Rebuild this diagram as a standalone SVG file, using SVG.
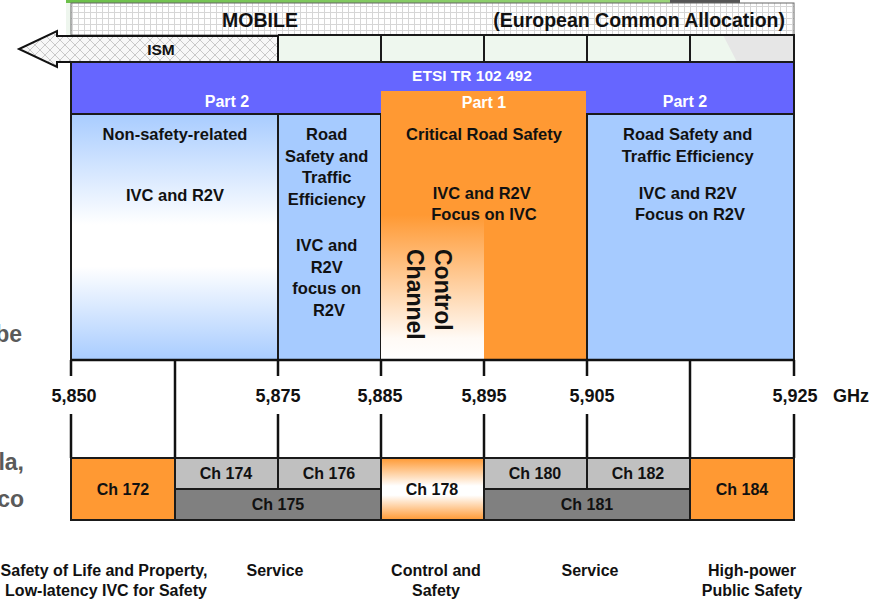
<svg xmlns="http://www.w3.org/2000/svg" width="871" height="601" viewBox="0 0 871 601">
  <style>
    text { font-family: "Liberation Sans", Arial, sans-serif; font-weight: bold; fill: #111; }
    .t16 { font-size: 16.5px; text-anchor: middle; }
    .ch { font-size: 16px; text-anchor: middle; }
    .freq { font-size: 18px; text-anchor: middle; }
    .white { fill: #fff; }
    .hdr { font-size: 15.5px; text-anchor: middle; fill: #fff; }
    .note { font-size: 16px; text-anchor: middle; }
    .side { font-size: 23px; fill: #5a5a5a; text-anchor: end; }
    .cell { stroke: #1a1a1a; stroke-width: 2; }
    .tick { stroke: #111; stroke-width: 2.5; fill: none; }
  </style>
  <defs>
    <pattern id="grid" width="6" height="6" patternUnits="userSpaceOnUse">
      <rect width="6" height="6" fill="#ffffff"/>
      <path d="M0 0.5 H6 M0.5 0 V6" stroke="#d6d6d6" stroke-width="1"/>
    </pattern>
    <pattern id="hatch" width="10" height="10" patternUnits="userSpaceOnUse">
      <rect width="10" height="10" fill="#f7f7f7"/>
      <path d="M0 0 L10 10 M10 0 L0 10" stroke="#c8c8c8" stroke-width="1"/>
    </pattern>
    <linearGradient id="leftPanel" x1="0" y1="0" x2="0" y2="1">
      <stop offset="0" stop-color="#a8ccff"/>
      <stop offset="0.45" stop-color="#ffffff"/>
      <stop offset="0.62" stop-color="#ffffff"/>
      <stop offset="1" stop-color="#a8ccff"/>
    </linearGradient>
    <linearGradient id="ctrlFade" x1="0" y1="0" x2="0" y2="1">
      <stop offset="0" stop-color="#ff9933"/>
      <stop offset="0.85" stop-color="#fffaf5"/>
      <stop offset="1" stop-color="#ffffff"/>
    </linearGradient>
    <linearGradient id="ch178" x1="0" y1="0" x2="0" y2="1">
      <stop offset="0" stop-color="#ff9933"/>
      <stop offset="0.45" stop-color="#ffffff"/>
      <stop offset="0.6" stop-color="#ffffff"/>
      <stop offset="1" stop-color="#ff9933"/>
    </linearGradient>
    <linearGradient id="topLine" x1="0" y1="0" x2="1" y2="0">
      <stop offset="0" stop-color="#6cc04a"/>
      <stop offset="1" stop-color="#9ad47a"/>
    </linearGradient>
  </defs>

  <!-- background accents -->
  <rect x="66" y="0" width="604" height="3" fill="url(#topLine)"/>
  <rect x="670" y="0" width="70" height="3" fill="#555"/>
  <rect x="66" y="3" width="5" height="32" fill="#eef6ee"/>

  <!-- MOBILE allocation band -->
  <g id="mobile">
    <rect x="71" y="3" width="723" height="32" fill="url(#grid)" stroke="#666" stroke-width="1"/>
    <text x="260" y="27" style="font-size:19.5px" text-anchor="middle">MOBILE</text>
    <text x="785" y="27" style="font-size:19.5px" text-anchor="end">(European Common Allocation)</text>
  </g>

  <!-- second row cells -->
  <g id="row2">
    <rect x="278" y="35" width="516" height="27" fill="#eef7ee"/>
    <polygon points="723,35 794,35 794,62 737,62" fill="#e6e6e6"/>
    <path d="M278 35 H794 V62 M381 35 V62 M484 35 V62 M587 35 V62 M690 35 V62" class="cell" fill="none"/>
  </g>

  <!-- ISM arrow -->
  <g id="ism">
    <polygon points="278,36 57,36 57,31 19,49 57,67 57,62 278,62" fill="url(#hatch)" stroke="#111" stroke-width="2"/>
    <text x="161" y="55" style="font-size:15.5px" text-anchor="middle">ISM</text>
  </g>

  <!-- ETSI band -->
  <g id="etsi">
    <rect x="71" y="62" width="723" height="52" fill="#6666ff" class="cell"/>
    <text x="472" y="81" class="hdr">ETSI TR 102 492</text>
    <text x="227" y="107" class="hdr" style="font-size:16px">Part 2</text>
    <text x="685" y="107" class="hdr" style="font-size:16px">Part 2</text>
  </g>

  <!-- Part 2: non-safety-related -->
  <g id="panel-nonsafety">
    <rect x="71" y="114" width="207" height="246" fill="url(#leftPanel)" class="cell"/>
    <text x="175" y="140" class="t16">Non-safety-related</text>
    <text x="175" y="201" class="t16">IVC and R2V</text>
  </g>

  <!-- Part 2: road safety 5,875-5,885 -->
  <g id="panel-rs-left">
    <rect x="278" y="114" width="103" height="246" fill="#a6cbff" class="cell"/>
    <text class="t16">
      <tspan x="329" y="140">Road</tspan>
      <tspan x="329" y="162">Safety and</tspan>
      <tspan x="329" y="183">Traffic</tspan>
      <tspan x="329" y="205">Efficiency</tspan>
      <tspan x="329" y="251">IVC and</tspan>
      <tspan x="329" y="273">R2V</tspan>
      <tspan x="329" y="294">focus on</tspan>
      <tspan x="329" y="316">R2V</tspan>
    </text>
  </g>

  <!-- Part 2: road safety 5,905-5,925 -->
  <g id="panel-rs-right">
    <rect x="587" y="114" width="207" height="246" fill="#a6cbff" class="cell"/>
    <text class="t16">
      <tspan x="690" y="140">Road Safety and</tspan>
      <tspan x="690" y="162">Traffic Efficiency</tspan>
      <tspan x="690" y="199">IVC and R2V</tspan>
      <tspan x="690" y="220">Focus on R2V</tspan>
    </text>
  </g>

  <!-- Part 1: critical road safety -->
  <g id="panel-critical">
    <rect x="381" y="91" width="205" height="269" fill="#ff9933"/>
    <rect x="381" y="215" width="103" height="145" fill="url(#ctrlFade)"/>
    <text x="484" y="108" class="hdr" style="font-size:16px">Part 1</text>
    <text x="484" y="140" class="t16">Critical Road Safety</text>
    <text class="t16">
      <tspan x="484" y="199">IVC and R2V</tspan>
      <tspan x="484" y="220">Focus on IVC</tspan>
    </text>
    <text transform="translate(435,249) rotate(90)" style="font-size:23px">
      <tspan x="0" y="0">Control</tspan>
      <tspan x="0" y="28">Channel</tspan>
    </text>
  </g>

  <!-- frequency axis -->
  <g id="axis">
    <path d="M71 360 H794" class="tick"/>
    <g id="ticks">
      <path d="M71 360 V376 M71 414 V458" class="tick"/>
      <path d="M175 360 V458" class="tick" stroke-width="2"/>
      <path d="M278 360 V376 M278 414 V458" class="tick"/>
      <path d="M381 360 V376 M381 414 V458" class="tick"/>
      <path d="M484 360 V376 M484 414 V458" class="tick"/>
      <path d="M587 360 V376 M587 414 V458" class="tick"/>
      <path d="M690 360 V458" class="tick" stroke-width="2"/>
      <path d="M794 360 V376 M794 414 V458" class="tick"/>
    </g>
    <text x="74" y="402" class="freq">5,850</text>
    <text x="278" y="402" class="freq">5,875</text>
    <text x="380" y="402" class="freq">5,885</text>
    <text x="484" y="402" class="freq">5,895</text>
    <text x="592" y="402" class="freq">5,905</text>
    <text x="795" y="402" class="freq">5,925</text>
    <text x="851" y="402" class="freq">GHz</text>
  </g>

  <!-- channels -->
  <g id="ch172">
    <rect x="71" y="458" width="104" height="62" fill="#ff9933" class="cell"/>
    <text x="123" y="495" class="ch">Ch 172</text>
  </g>
  <g id="ch174">
    <rect x="175" y="458" width="103" height="31" fill="#c0c0c0" class="cell"/>
    <text x="226" y="479" class="ch">Ch 174</text>
  </g>
  <g id="ch176">
    <rect x="278" y="458" width="103" height="31" fill="#c0c0c0" class="cell"/>
    <text x="329" y="479" class="ch">Ch 176</text>
  </g>
  <g id="ch175">
    <rect x="175" y="489" width="206" height="31" fill="#808080" class="cell"/>
    <text x="278" y="510" class="ch">Ch 175</text>
  </g>
  <g id="ch178">
    <rect x="381" y="458" width="103" height="62" fill="url(#ch178)" class="cell"/>
    <text x="432" y="495" class="ch">Ch 178</text>
  </g>
  <g id="ch180">
    <rect x="484" y="458" width="103" height="31" fill="#c0c0c0" class="cell"/>
    <text x="535" y="479" class="ch">Ch 180</text>
  </g>
  <g id="ch182">
    <rect x="587" y="458" width="103" height="31" fill="#c0c0c0" class="cell"/>
    <text x="638" y="479" class="ch">Ch 182</text>
  </g>
  <g id="ch181">
    <rect x="484" y="489" width="206" height="31" fill="#808080" class="cell"/>
    <text x="587" y="510" class="ch">Ch 181</text>
  </g>
  <g id="ch184">
    <rect x="690" y="458" width="104" height="62" fill="#ff9933" class="cell"/>
    <text x="742" y="495" class="ch">Ch 184</text>
  </g>

  <!-- usage notes -->
  <g id="notes">
    <text class="note"><tspan x="104" y="576">Safety of Life and Property,</tspan><tspan x="106" y="596">Low-latency IVC for Safety</tspan></text>
    <text x="275" y="576" class="note">Service</text>
    <text class="note"><tspan x="436" y="576">Control and</tspan><tspan x="436" y="596">Safety</tspan></text>
    <text x="590" y="576" class="note">Service</text>
    <text class="note"><tspan x="752" y="576">High-power</tspan><tspan x="752" y="596">Public Safety</tspan></text>
  </g>

  <!-- side text fragments -->
  <g id="side">
    <text x="22" y="342" class="side">be</text>
    <text x="24" y="470" class="side">la,</text>
    <text x="24" y="507" class="side">co</text>
  </g>
</svg>
